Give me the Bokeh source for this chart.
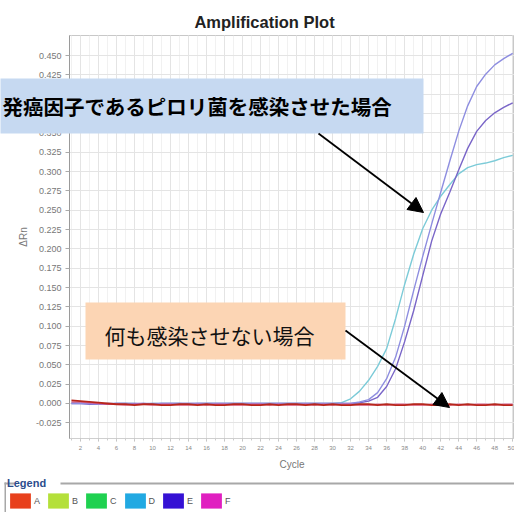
from bokeh.plotting import figure
from bokeh.layouts import column
from bokeh.models import (Range1d, FixedTicker, NumeralTickFormatter, BoxAnnotation,
                          Label, Arrow, NormalHead, Legend, LegendItem)
from bokeh.embed import file_html
from bokeh.resources import INLINE

# ---------------- data ----------------
cycles = list(range(1, 51))

sample_A = [0.004, 0.003, 0.002, 0.001, 0.000, -0.001, -0.001, -0.002, -0.001, -0.001,
            -0.002, -0.002, -0.001, -0.001, -0.002, -0.001, -0.002, -0.002, -0.001, -0.001,
            -0.002, -0.002, -0.001, -0.002, -0.001, -0.001, -0.002, -0.001, -0.002, -0.001,
            -0.002, -0.002, -0.001, -0.001, -0.002, -0.001, -0.002, -0.002, -0.001, -0.001,
            -0.002, -0.002, -0.001, -0.002, -0.001, -0.002, -0.002, -0.001, -0.002, -0.002]

sample_F = [0.002, 0.002, 0.001, 0.000, -0.001, -0.001, -0.002, -0.001, -0.001, -0.002,
            -0.001, -0.001, -0.002, -0.002, -0.001, -0.002, -0.001, -0.001, -0.002, -0.002,
            -0.001, -0.001, -0.002, -0.001, -0.002, -0.002, -0.001, -0.002, -0.001, -0.002,
            -0.001, -0.001, -0.002, -0.002, -0.001, -0.002, -0.001, -0.001, -0.002, -0.002,
            -0.001, -0.001, -0.002, -0.001, -0.002, -0.001, -0.001, -0.002, -0.001, -0.001]

sample_D = [0.001, 0.001, 0.000, 0.000, -0.001, 0.000, 0.000, 0.000, -0.001, 0.000,
            0.000, 0.000, 0.000, -0.001, 0.000, 0.000, 0.000, 0.000, 0.000, 0.000,
            0.000, 0.000, 0.000, 0.000, 0.000, 0.000, 0.000, 0.000, 0.000, 0.000,
            0.001, 0.006, 0.016, 0.030, 0.048, 0.071, 0.110, 0.154, 0.193, 0.226,
            0.250, 0.268, 0.283, 0.297, 0.305, 0.309, 0.311, 0.314, 0.318, 0.321]

sample_E1 = [0.000, 0.000, 0.000, -0.001, -0.001, 0.000, 0.000, -0.001, 0.000, 0.000,
             0.000, 0.000, 0.000, 0.000, 0.000, 0.000, 0.000, 0.000, 0.000, 0.000,
             0.000, 0.000, 0.000, 0.000, 0.000, 0.000, 0.000, 0.000, 0.000, 0.000,
             0.000, 0.000, 0.002, 0.005, 0.014, 0.032, 0.060, 0.100, 0.146, 0.190,
             0.232, 0.273, 0.313, 0.352, 0.385, 0.410, 0.426, 0.438, 0.446, 0.453]

sample_E2 = [0.000, 0.000, -0.001, -0.001, 0.000, 0.000, 0.000, 0.000, 0.000, -0.001,
             0.000, 0.000, 0.000, 0.000, 0.000, 0.000, 0.000, 0.000, 0.000, 0.000,
             0.000, 0.000, 0.000, 0.000, 0.000, 0.000, 0.000, 0.000, 0.000, 0.000,
             0.000, 0.000, 0.001, 0.003, 0.008, 0.022, 0.045, 0.080, 0.120, 0.165,
             0.210, 0.245, 0.273, 0.302, 0.330, 0.352, 0.366, 0.376, 0.383, 0.389]

y_tick_values = [-0.025, 0.000, 0.025, 0.050, 0.075, 0.100, 0.125, 0.150, 0.175, 0.200,
                 0.225, 0.250, 0.275, 0.300, 0.325, 0.350, 0.375, 0.400, 0.425, 0.450]
x_tick_values = [2, 4, 6, 8, 10, 12, 14, 16, 18, 20, 22, 24, 26, 28, 30,
                 32, 34, 36, 38, 40, 42, 44, 46, 48, 50]

legend_labels = ["A", "B", "C", "D", "E", "F"]
legend_colors = ["#e8401c", "#b4e03a", "#1fd150", "#22a9e2", "#3511d4", "#e01fc0"]

# ---------------- geometry ----------------
W, H = 514, 512
X0, X1 = 0.78, 50.2
Y0, Y1 = -0.0453, 0.476
FL, FR, FT, FB = 69, 514, 35, 438

# ---------------- main chart ----------------
p = figure(width=W, height=H, x_range=Range1d(X0, X1), y_range=Range1d(Y0, Y1),
           output_backend="svg", toolbar_location=None,
           min_border_left=FL, min_border_right=W - FR, min_border_top=FT,
           min_border_bottom=H - FB)
p.frame_align = False
p.background_fill_color = "white"
p.border_fill_color = "white"
p.outline_line_color = "#c8c8c8"

p.yaxis.ticker = FixedTicker(ticks=y_tick_values)
p.yaxis.formatter = NumeralTickFormatter(format="0.000")
p.yaxis.axis_label = "ΔRn"
p.yaxis.axis_label_text_font = "Liberation Sans"
p.yaxis.axis_label_text_font_style = "normal"
p.yaxis.axis_label_text_font_size = "10px"
p.yaxis.axis_label_text_color = "#777777"
p.yaxis.axis_label_standoff = 4
p.yaxis.major_label_text_font = "Liberation Sans"
p.yaxis.major_label_text_font_size = "9px"
p.yaxis.major_label_text_color = "#777777"
p.yaxis.major_label_standoff = 4
p.yaxis.axis_line_color = "#9a9a9a"
p.yaxis.major_tick_line_color = "#aaaaaa"
p.yaxis.major_tick_out = 4
p.yaxis.major_tick_in = 0
p.yaxis.minor_tick_line_color = None

p.xaxis.ticker = FixedTicker(ticks=x_tick_values, minor_ticks=cycles)
p.xaxis.axis_label = "Cycle"
p.xaxis.axis_label_text_font = "Liberation Sans"
p.xaxis.axis_label_text_font_style = "normal"
p.xaxis.axis_label_text_font_size = "10px"
p.xaxis.axis_label_text_color = "#777777"
p.xaxis.axis_label_standoff = 6
p.xaxis.major_label_text_font = "Liberation Sans"
p.xaxis.major_label_text_font_size = "6px"
p.xaxis.major_label_text_color = "#888888"
p.xaxis.major_label_standoff = 4
p.xaxis.axis_line_color = "#cfcfcf"
p.xaxis.major_tick_line_color = "#bbbbbb"
p.xaxis.major_tick_out = 3
p.xaxis.major_tick_in = 0
p.xaxis.minor_tick_line_color = "#cccccc"
p.xaxis.minor_tick_out = 2
p.xaxis.minor_tick_in = 0

p.xgrid.ticker = FixedTicker(ticks=x_tick_values, minor_ticks=cycles)
p.xgrid.grid_line_color = "#e4e4e4"
p.xgrid.minor_grid_line_color = "#f1f1f1"
p.ygrid.ticker = FixedTicker(ticks=y_tick_values)
p.ygrid.grid_line_color = "#e4e4e4"

p.line(cycles, sample_D, line_color="#7ccbd8", line_width=1.4)
p.line(cycles, sample_E2, line_color="#7a66c8", line_width=1.4)
p.line(cycles, sample_E1, line_color="#8e8ee0", line_width=1.4)
p.line(cycles, sample_F, line_color="#e0508c", line_width=1.4, line_alpha=0.8)
p.line(cycles, sample_A, line_color="#b8261c", line_width=1.8)

# ---------------- transparent overlay (pixel coordinates, y downward) ----------------
o = figure(width=W, height=H, x_range=Range1d(0, W), y_range=Range1d(H, 0),
           output_backend="svg", toolbar_location=None,
           x_axis_location=None, y_axis_location=None,
           min_border=0, margin=(-H, 0, 0, 0))
o.frame_align = False
o.background_fill_alpha = 0.0
o.border_fill_alpha = 0.0
o.outline_line_color = None
o.xgrid.visible = False
o.ygrid.visible = False

o.add_layout(Label(x=264, y=21, text="Amplification Plot",
                   text_align="center", text_baseline="middle",
                   text_font="Liberation Sans", text_font_style="bold",
                   text_font_size="16.5px", text_color="#222222"))

o.add_layout(BoxAnnotation(left=-10, right=423, top=78, bottom=133,
                           fill_color="#c6d9f1", fill_alpha=1.0, line_color=None))
o.add_layout(BoxAnnotation(left=85, right=345, top=302, bottom=359,
                           fill_color="#fcd5b4", fill_alpha=1.0, line_color=None))

o.add_layout(Label(x=2, y=105, text="発癌因子であるピロリ菌を感染させた場合",
                   text_align="left", text_baseline="middle",
                   text_font="Noto Sans CJK JP", text_font_style="bold",
                   text_font_size="20.5px", text_color="#000000"))
o.add_layout(Label(x=104, y=334, text="何も感染させない場合",
                   text_align="left", text_baseline="middle",
                   text_font="Noto Sans CJK JP", text_font_style="normal",
                   text_font_size="21px", text_color="#111111"))

o.add_layout(Arrow(end=NormalHead(size=15, fill_color="black", line_color="black"),
                   x_start=318, y_start=133, x_end=423, y_end=212,
                   line_color="black", line_width=1.8))
o.add_layout(Arrow(end=NormalHead(size=15, fill_color="black", line_color="black"),
                   x_start=345, y_start=330, x_end=449, y_end=407,
                   line_color="black", line_width=1.8))

# legend group-box lines
for l, r, t, b in [(60, 514, 482, 484), (4, 14, 482, 484), (4, 5.5, 482, 512)]:
    o.add_layout(BoxAnnotation(left=l, right=r, top=t, bottom=b,
                               fill_color="#a8a8a8", fill_alpha=1.0, line_color=None))

items = []
for lab, col in zip(legend_labels, legend_colors):
    r = o.quad(left=[0], right=[0], top=[0], bottom=[0], fill_color=col,
               line_color=None, visible=False)
    items.append(LegendItem(label=lab, renderers=[r]))
legend = Legend(items=items, orientation="horizontal", location=(7, H - 510),
                title="Legend", title_text_font="Liberation Sans",
                title_text_font_style="bold", title_text_font_size="11px",
                title_text_color="#2b4c8c", title_standoff=2,
                label_text_font="Liberation Sans", label_text_font_size="9px",
                label_text_color="#555555", glyph_width=26, glyph_height=19,
                label_standoff=1, label_width=6, label_height=19, spacing=5,
                padding=0, margin=0, border_line_color=None,
                background_fill_alpha=0.0, inactive_fill_alpha=0.0)
o.add_layout(legend)

layout = column(p, o)
open("out.html", "w").write(file_html(layout, INLINE))
